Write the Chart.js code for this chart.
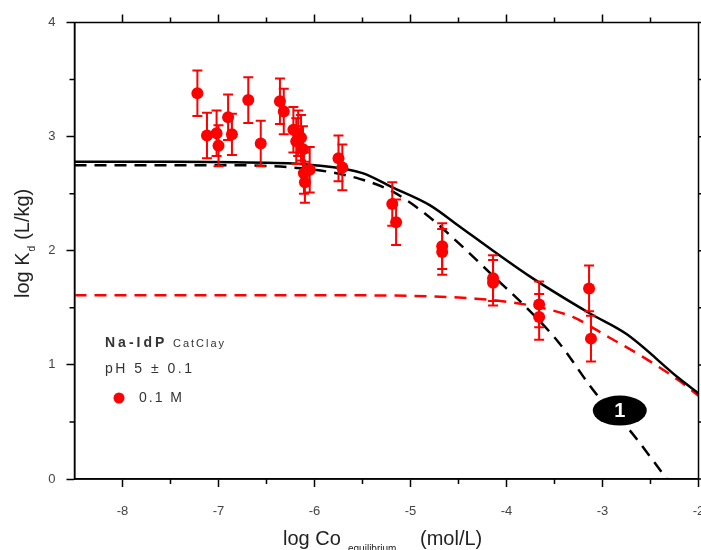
<!DOCTYPE html>
<html>
<head>
<meta charset="utf-8">
<script src="https://cdn.jsdelivr.net/npm/chart.js@4/dist/chart.umd.min.js"></script>
<style>
  html, body { margin: 0; padding: 0; background: #fff; }
  #wrap { width: 701px; height: 550px; }
</style>
</head>
<body>
<div id="wrap"><canvas id="kdChart" width="701" height="550"></canvas></div>
<script>
// measured points, 0.1 M, pH 5
var xObs = [-7.22, -7.12, -7.02, -7.00, -6.90, -6.86, -6.69, -6.56, -6.36, -6.32,
            -6.22, -6.17, -6.14, -6.19, -6.12, -6.11, -6.10, -6.05, -5.75, -5.71,
            -5.19, -5.15, -4.67, -4.67, -4.14, -4.14, -3.66, -3.66, -3.14, -3.12];
var yObs = [3.38, 3.01, 3.03, 2.92, 3.17, 3.02, 3.32, 2.94, 3.31, 3.22,
            3.06, 3.03, 2.99, 2.96, 2.89, 2.68, 2.60, 2.71, 2.81, 2.73,
            2.41, 2.25, 2.04, 1.99, 1.76, 1.72, 1.53, 1.42, 1.67, 1.23];
var yErr = [0.20, 0.20, 0.20, 0.18, 0.20, 0.18, 0.20, 0.20, 0.20, 0.20,
            0.20, 0.20, 0.20, 0.20, 0.20, 0.18, 0.18, 0.20, 0.20, 0.20,
            0.19, 0.20, 0.20, 0.20, 0.20, 0.20, 0.20, 0.20, 0.20, 0.20];

// model curves
var xTotal = [-8.5, -7.5, -6.5, -6.0, -5.5, -5.2, -4.8, -4.5, -4.14, -3.73, -3.13, -2.75, -2.2, -2.0];
var yTotal = [2.78, 2.78, 2.77, 2.75, 2.68, 2.56, 2.40, 2.22, 2.00, 1.76, 1.45, 1.27, 0.88, 0.75];

var xSite1 = [-8.5, -7.0, -6.0, -5.53, -5.19, -4.84, -4.49, -4.14, -3.79, -3.45, -3.07, -2.72, -2.33];
var ySite1 = [2.75, 2.75, 2.71, 2.63, 2.52, 2.32, 2.06, 1.78, 1.50, 1.19, 0.75, 0.43, 0.0];

var xSite2 = [-8.5, -6.0, -5.0, -4.32, -3.97, -3.66, -3.31, -2.93, -2.58, -2.2, -2.0];
var ySite2 = [1.61, 1.61, 1.605, 1.58, 1.55, 1.505, 1.42, 1.24, 1.07, 0.86, 0.73];

var xTicks = [-8, -7, -6, -5, -4, -3, -2];
var yTicks = [0, 1, 2, 3, 4];

function pairs(xs, ys) {
  var out = [];
  for (var i = 0; i < xs.length; i++) out.push({ x: xs[i], y: ys[i] });
  return out;
}

var FONT = '"Liberation Sans", Arial, sans-serif';

// error bars, frame, minor ticks, labels
var extras = {
  id: 'extras',
  beforeDatasetDraw: function (chart, args) {
    if (args.index !== 0) return;
    var ctx = chart.ctx, xs = chart.scales.x, ys = chart.scales.y;
    ctx.save();
    ctx.strokeStyle = '#ff0000';
    ctx.lineWidth = 2;
    for (var i = 0; i < xObs.length; i++) {
      var px = xs.getPixelForValue(xObs[i]);
      var top = ys.getPixelForValue(yObs[i] + yErr[i]);
      var bot = ys.getPixelForValue(yObs[i] - yErr[i]);
      ctx.beginPath();
      ctx.moveTo(px, top); ctx.lineTo(px, bot);
      ctx.moveTo(px - 5, top); ctx.lineTo(px + 5, top);
      ctx.moveTo(px - 5, bot); ctx.lineTo(px + 5, bot);
      ctx.stroke();
    }
    ctx.restore();
  },
  afterDatasetsDraw: function (chart) {
    var ctx = chart.ctx, xs = chart.scales.x, ys = chart.scales.y;
    var cx = xs.getPixelForValue(-2.82), cy = ys.getPixelForValue(0.6);
    ctx.save();
    ctx.fillStyle = '#000';
    ctx.beginPath();
    ctx.ellipse(cx, cy, 27, 15, 0, 0, Math.PI * 2);
    ctx.fill();
    ctx.fillStyle = '#fff';
    ctx.font = 'bold 20px ' + FONT;
    ctx.textAlign = 'center';
    ctx.textBaseline = 'middle';
    ctx.fillText('1', cx, cy + 1);
    ctx.restore();
  },
  afterDraw: function (chart) {
    var ctx = chart.ctx, a = chart.chartArea, xs = chart.scales.x, ys = chart.scales.y;
    ctx.save();
    ctx.strokeStyle = '#000';
    ctx.lineWidth = 1.5;
    ctx.strokeRect(a.left, a.top, a.right - a.left, a.bottom - a.top);

    // ticks: minor on all sides, major on top/right
    ctx.beginPath();
    for (var v = -8.5; v <= -2.0001; v += 0.5) {
      var px = xs.getPixelForValue(v);
      var major = Math.abs(v - Math.round(v)) < 0.01;
      var len = major ? 8 : 5;
      if (!major && v > -8.4) { ctx.moveTo(px, a.bottom); ctx.lineTo(px, a.bottom + len); }
      if (v > -8.4) { ctx.moveTo(px, a.top); ctx.lineTo(px, a.top - len); }
    }
    for (var w = 0; w <= 4.0001; w += 0.5) {
      var py = ys.getPixelForValue(w);
      var maj = Math.abs(w - Math.round(w)) < 0.01;
      var l2 = maj ? 8 : 5;
      if (!maj) { ctx.moveTo(a.left, py); ctx.lineTo(a.left - l2, py); }
      ctx.moveTo(a.right, py); ctx.lineTo(a.right + l2, py);
    }
    ctx.stroke();

    // axis titles
    ctx.fillStyle = '#222';
    ctx.textBaseline = 'alphabetic';
    ctx.textAlign = 'left';
    ctx.font = '20px ' + FONT;
    ctx.fillText('log Co', 283, 545);
    ctx.font = '10px ' + FONT;
    ctx.fillText('equilibrium', 348, 552);
    ctx.font = '20px ' + FONT;
    ctx.fillText('(mol/L)', 420, 545);

    ctx.save();
    ctx.translate(29, 298);
    ctx.rotate(-Math.PI / 2);
    ctx.font = '20px ' + FONT;
    ctx.fillText('log K', 0, 0);
    var w1 = ctx.measureText('log K').width;
    ctx.font = '10px ' + FONT;
    ctx.fillText('d', w1 + 1, 6);
    ctx.font = '20px ' + FONT;
    ctx.fillText(' (L/kg)', w1 + 7, 0);
    ctx.restore();

    // in-plot legend
    ctx.fillStyle = '#333';
    ctx.textBaseline = 'middle';
    ctx.letterSpacing = '3px';
    ctx.font = 'bold 14px ' + FONT;
    ctx.fillText('Na-IdP', 105, 343);
    ctx.letterSpacing = '2px';
    ctx.font = '11px ' + FONT;
    ctx.fillText('CatClay', 173, 344);
    ctx.letterSpacing = '2.5px';
    ctx.font = '14px ' + FONT;
    ctx.fillText('pH 5 \u00b1 0.1', 105, 369);
    ctx.letterSpacing = '2px';
    ctx.fillText('0.1 M', 139, 398);
    ctx.letterSpacing = '0px';
    ctx.fillStyle = '#ff0000';
    ctx.beginPath();
    ctx.arc(119, 398, 5.5, 0, Math.PI * 2);
    ctx.fill();
    ctx.restore();
  }
};

var ctx = document.getElementById('kdChart');

var chartKd = new Chart(ctx, {
  type: 'scatter',
  data: {
    datasets: [{
      label: '0.1 M',
      data: pairs(xObs, yObs),
      pointRadius: 6,
      pointBackgroundColor: '#ff0000',
      pointBorderColor: '#ff0000',
      pointBorderWidth: 0,
      showLine: false
    }, {
      label: 'total',
      data: pairs(xTotal, yTotal),
      showLine: true,
      pointRadius: 0,
      borderColor: '#000',
      borderWidth: 2.5,
      cubicInterpolationMode: 'monotone'
    }, {
      label: 'site 1',
      data: pairs(xSite1, ySite1),
      showLine: true,
      pointRadius: 0,
      borderColor: '#000',
      borderWidth: 2.5,
      borderDash: [12, 8],
      cubicInterpolationMode: 'monotone'
    }, {
      label: 'site 2',
      data: pairs(xSite2, ySite2),
      showLine: true,
      pointRadius: 0,
      borderColor: '#ff0000',
      borderWidth: 2.5,
      borderDash: [12, 8],
      cubicInterpolationMode: 'monotone'
    }]
  },
  options: {
    responsive: false,
    animation: false,
    events: [],
    layout: { autoPadding: false, padding: { left: 0, right: 2.5, top: 22.5, bottom: 0 } },
    plugins: { legend: { display: false }, tooltip: { enabled: false } },
    scales: {
      x: {
        type: 'linear',
        min: -8.5, max: -2,
        afterFit: function (s) { s.height = 71; s.paddingLeft = 0; s.paddingRight = 0; },
        afterBuildTicks: function (s) { s.ticks = xTicks.map(function (v) { return { value: v }; }); },
        ticks: { color: '#444', font: { family: FONT, size: 13 }, padding: 17, maxRotation: 0 },
        grid: { drawOnChartArea: false, color: '#000', tickLength: 8, tickWidth: 1.5 },
        border: { color: '#000', width: 1.5 }
      },
      y: {
        min: 0, max: 4,
        afterFit: function (s) { s.width = 74.5; s.paddingTop = 0; s.paddingBottom = 0; },
        afterBuildTicks: function (s) { s.ticks = yTicks.map(function (v) { return { value: v }; }); },
        ticks: { color: '#444', font: { family: FONT, size: 13 }, padding: 11 },
        grid: { drawOnChartArea: false, color: '#000', tickLength: 8, tickWidth: 1.5 },
        border: { color: '#000', width: 1.5 }
      }
    }
  },
  plugins: [extras]
});
</script>
</body>
</html>
